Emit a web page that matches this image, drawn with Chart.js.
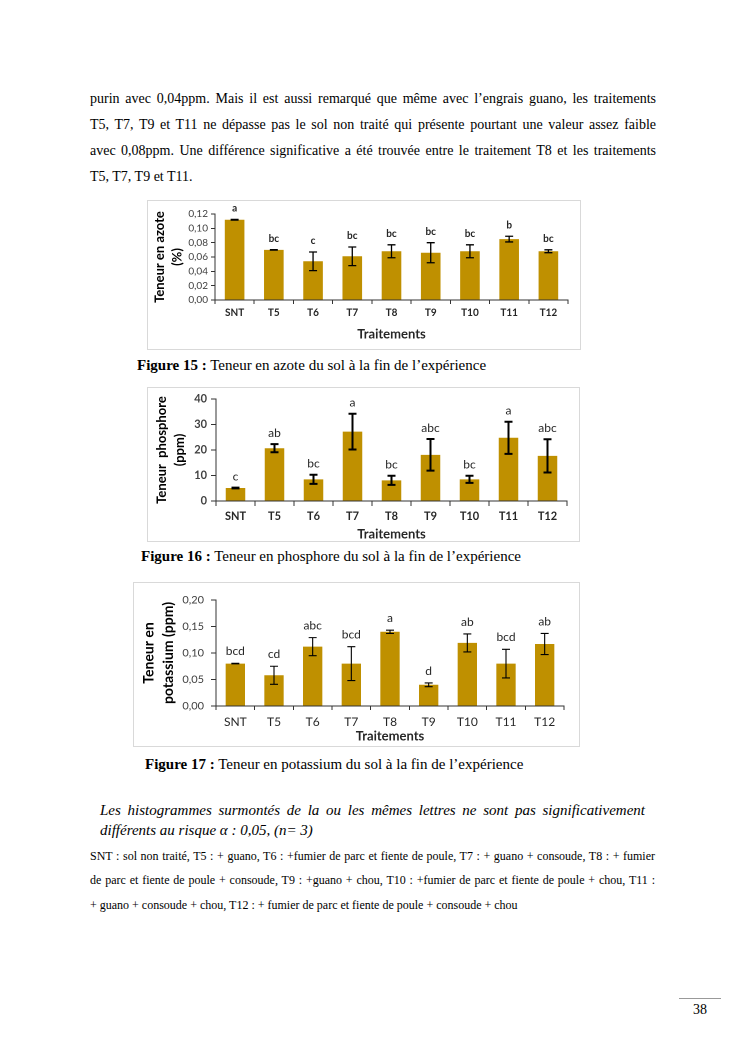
<!DOCTYPE html>
<html lang="fr">
<head>
<meta charset="utf-8">
<script src="https://cdn.jsdelivr.net/npm/chart.js@4.4.1/dist/chart.umd.min.js"></script>
<style>
  body { margin: 0; background: #fff; }
  #page { position: relative; width: 745px; height: 1053px; font-family: "Liberation Serif", "Times New Roman", serif; color: #000; }
  .ln { position: absolute; font-size: 15px; line-height: 20px; white-space: nowrap; }
  .para { font-size: 14px; }
  .just { text-align: justify; text-align-last: justify; white-space: normal; }
  .small { font-size: 12px; }
  .box { position: absolute; border: 1px solid #d9d9d9; box-sizing: border-box; }
  .box canvas { position: absolute; left: 0; top: 0; }
</style>
</head>
<body>
<div id="page">
  <div class="ln just para" style="left:90px; width:566px; top:89px;">purin avec 0,04ppm. Mais il est aussi remarqué que même avec l’engrais guano, les traitements</div>
  <div class="ln just para" style="left:90px; width:566px; top:115px;">T5, T7, T9 et T11 ne dépasse pas le sol non traité qui présente pourtant une valeur assez faible</div>
  <div class="ln just para" style="left:90px; width:566px; top:141px;">avec 0,08ppm. Une différence significative a été trouvée entre le traitement T8 et les traitements</div>
  <div class="ln para" style="left:90px; top:167px;">T5, T7, T9 et T11.</div>

  <div class="box" style="left:147px; top:200px; width:434px; height:150px;"><canvas id="c1" width="434" height="150"></canvas></div>
  <div class="ln" style="left:137px; top:355px;"><b>Figure 15 :</b> Teneur en azote du sol à la fin de l’expérience</div>

  <div class="box" style="left:147px; top:387px; width:433px; height:155px;"><canvas id="c2" width="433" height="155"></canvas></div>
  <div class="ln" style="left:141px; top:546px;"><b>Figure 16 :</b> Teneur en phosphore du sol à la fin de l’expérience</div>

  <div class="box" style="left:133px; top:582px; width:447px; height:165px;"><canvas id="c3" width="447" height="165"></canvas></div>
  <div class="ln" style="left:145px; top:754px;"><b>Figure 17 :</b> Teneur en potassium du sol à la fin de l’expérience</div>

  <div class="ln just" style="left:100px; width:545px; top:800px; font-style:italic;">Les histogrammes surmontés de la ou les mêmes lettres ne sont pas significativement</div>
  <div class="ln" style="left:100px; top:820px; font-style:italic;">différents au risque α : 0,05, (n= 3)</div>

  <div class="ln just small" style="left:90px; width:565px; top:846px;">SNT : sol non traité, T5 : + guano, T6 : +fumier de parc et fiente de poule, T7 : + guano + consoude, T8 : + fumier</div>
  <div class="ln just small" style="left:90px; width:565px; top:870px;">de parc et fiente de poule + consoude, T9 : +guano + chou, T10 : +fumier de parc et fiente de poule + chou, T11 :</div>
  <div class="ln small" style="left:90px; top:895px;">+ guano + consoude + chou, T12 : + fumier de parc et fiente de poule + consoude + chou</div>

  <div style="position:absolute; left:679px; top:998px; width:42px; border-top:1px solid #999;"></div>
  <div class="ln" style="left:679px; width:42px; top:1000px; text-align:center; font-size:14px;">38</div>
</div>

<script>
const traitements = ['SNT', 'T5', 'T6', 'T7', 'T8', 'T9', 'T10', 'T11', 'T12'];

const azote = [0.112, 0.070, 0.054, 0.061, 0.068, 0.066, 0.068, 0.085, 0.068];
const azoteErr = [0.0005, 0.0003, 0.013, 0.013, 0.009, 0.014, 0.009, 0.004, 0.002];
const azoteLettres = ['a', 'bc', 'c', 'bc', 'bc', 'bc', 'bc', 'b', 'bc'];

const phosphore = [5.1, 20.7, 8.5, 27.2, 8.1, 18.1, 8.5, 24.8, 17.7];
const phosphoreErr = [0.15, 1.6, 1.8, 7.0, 1.8, 6.2, 1.4, 6.3, 6.5];
const phosphoreLettres = ['c', 'ab', 'bc', 'a', 'bc', 'abc', 'bc', 'a', 'abc'];

const potassium = [0.080, 0.058, 0.112, 0.080, 0.140, 0.040, 0.119, 0.080, 0.117];
const potassiumErr = [0.0005, 0.017, 0.017, 0.032, 0.003, 0.0035, 0.017, 0.027, 0.020];
const potassiumLettres = ['bcd', 'cd', 'abc', 'bcd', 'a', 'd', 'ab', 'bcd', 'ab'];

const OR = '#bf9000';
const FONT = 'Lato, "Open Sans", sans-serif';

// barres d'erreur + lettres de significativité
const errorBars = {
    id: 'errorBars',
    afterDatasetsDraw(chart, args, opts) {
        const ctx = chart.ctx;
        const y = chart.scales.y;
        const ds = chart.data.datasets[0];
        const meta = chart.getDatasetMeta(0);
        ctx.save();
        meta.data.forEach((bar, i) => {
            const v = ds.data[i], e = ds.errors[i];
            const top = y.getPixelForValue(v + e);
            const bot = y.getPixelForValue(v - e);
            ctx.strokeStyle = '#000';
            ctx.lineWidth = opts.lineWidth;
            ctx.beginPath();
            ctx.moveTo(bar.x, top); ctx.lineTo(bar.x, bot);
            ctx.moveTo(bar.x - opts.cap, top); ctx.lineTo(bar.x + opts.cap, top);
            ctx.moveTo(bar.x - opts.cap, bot); ctx.lineTo(bar.x + opts.cap, bot);
            ctx.stroke();
            ctx.fillStyle = '#262626';
            ctx.font = opts.font;
            ctx.textAlign = 'center';
            ctx.textBaseline = 'middle';
            ctx.fillText(ds.letters[i], bar.x, top - opts.gap);
        });
        ctx.restore();
    }
};

function makeChart(id, c) {
    return new Chart(document.getElementById(id), {
        type: 'bar',
        data: {
            labels: traitements,
            datasets: [{
                data: c.values,
                errors: c.errors,
                letters: c.letters,
                backgroundColor: OR,
                borderWidth: 0,
                categoryPercentage: 1,
                barPercentage: 0.5
            }]
        },
        plugins: [errorBars],
        options: {
            responsive: false,
            animation: false,
            devicePixelRatio: 2,
            layout: { padding: c.padding },
            plugins: {
                legend: { display: false },
                tooltip: { enabled: false },
                errorBars: c.bars
            },
            scales: {
                x: {
                    afterFit: s => { s.height = c.xHeight; },
                    grid: { drawOnChartArea: false, tickLength: c.xTick, color: '#333' },
                    border: { color: '#333', width: 1 },
                    ticks: { color: '#262626', padding: c.xPad, font: c.xFont, autoSkip: false, maxRotation: 0 },
                    title: {
                        display: true, text: 'Traitements', color: '#262626', padding: 0,
                        font: { family: FONT, size: 13, weight: 'bold', lineHeight: 1.2 }
                    }
                },
                y: {
                    min: 0, max: c.max,
                    afterFit: s => { s.width = c.yWidth; },
                    grid: { drawOnChartArea: false, tickLength: c.yTick, color: '#333' },
                    border: { color: '#333', width: 1 },
                    ticks: { stepSize: c.step, autoSkip: false, color: '#404040', padding: c.yPad, font: c.yFont, callback: c.fmt },
                    title: {
                        display: true, text: c.yTitle, color: '#000', padding: { top: c.titlePad, bottom: 0 },
                        font: c.titleFont
                    }
                }
            }
        }
    });
}

const virgule = d => v => v.toFixed(d).replace('.', ',');

makeChart('c1', {
    values: azote, errors: azoteErr, letters: azoteLettres,
    max: 0.12, step: 0.02, fmt: virgule(2),
    padding: { top: 13, right: 14, bottom: 9, left: 0 },
    xHeight: 42, yWidth: 67,
    xTick: 4, xPad: 3, xFont: { family: FONT, size: 10, weight: 'bold' },
    yTick: 4, yPad: 3, yFont: { family: FONT, size: 10, lineHeight: 1 },
    yTitle: ['Teneur en azote', '(%)'], titlePad: 3,
    titleFont: { family: FONT, size: 13, weight: 'bold', lineHeight: 1.35 },
    bars: { lineWidth: 1.3, cap: 4, gap: 11, font: 'bold 10px ' + FONT }
});

makeChart('c2', {
    values: phosphore, errors: phosphoreErr, letters: phosphoreLettres,
    max: 40, step: 10, fmt: v => String(v),
    padding: { top: 11, right: 14, bottom: 1, left: 0 },
    xHeight: 41, yWidth: 68,
    xTick: 5, xPad: 4, xFont: { family: FONT, size: 11, weight: 'bold' },
    yTick: 5, yPad: 4, yFont: { family: FONT, size: 11, weight: 'bold' },
    yTitle: ['Teneur  phosphore', '(ppm)'], titlePad: 5,
    titleFont: { family: FONT, size: 13, weight: 'bold', lineHeight: 1.38 },
    bars: { lineWidth: 2, cap: 4, gap: 11, font: '12px ' + FONT }
});

makeChart('c3', {
    values: potassium, errors: potassiumErr, letters: potassiumLettres,
    max: 0.20, step: 0.05, fmt: virgule(2),
    padding: { top: 17, right: 17, bottom: 4, left: 0 },
    xHeight: 38, yWidth: 82,
    xTick: 4, xPad: 5, xFont: { family: FONT, size: 12 },
    yTick: 5, yPad: 7, yFont: { family: FONT, size: 11 },
    yTitle: ['Teneur en', 'potassium (ppm)'], titlePad: 5,
    titleFont: { family: FONT, size: 14, weight: 'bold', lineHeight: 1.4 },
    bars: { lineWidth: 1.1, cap: 4, gap: 12, font: '12px ' + FONT }
});
</script>
</body>
</html>
